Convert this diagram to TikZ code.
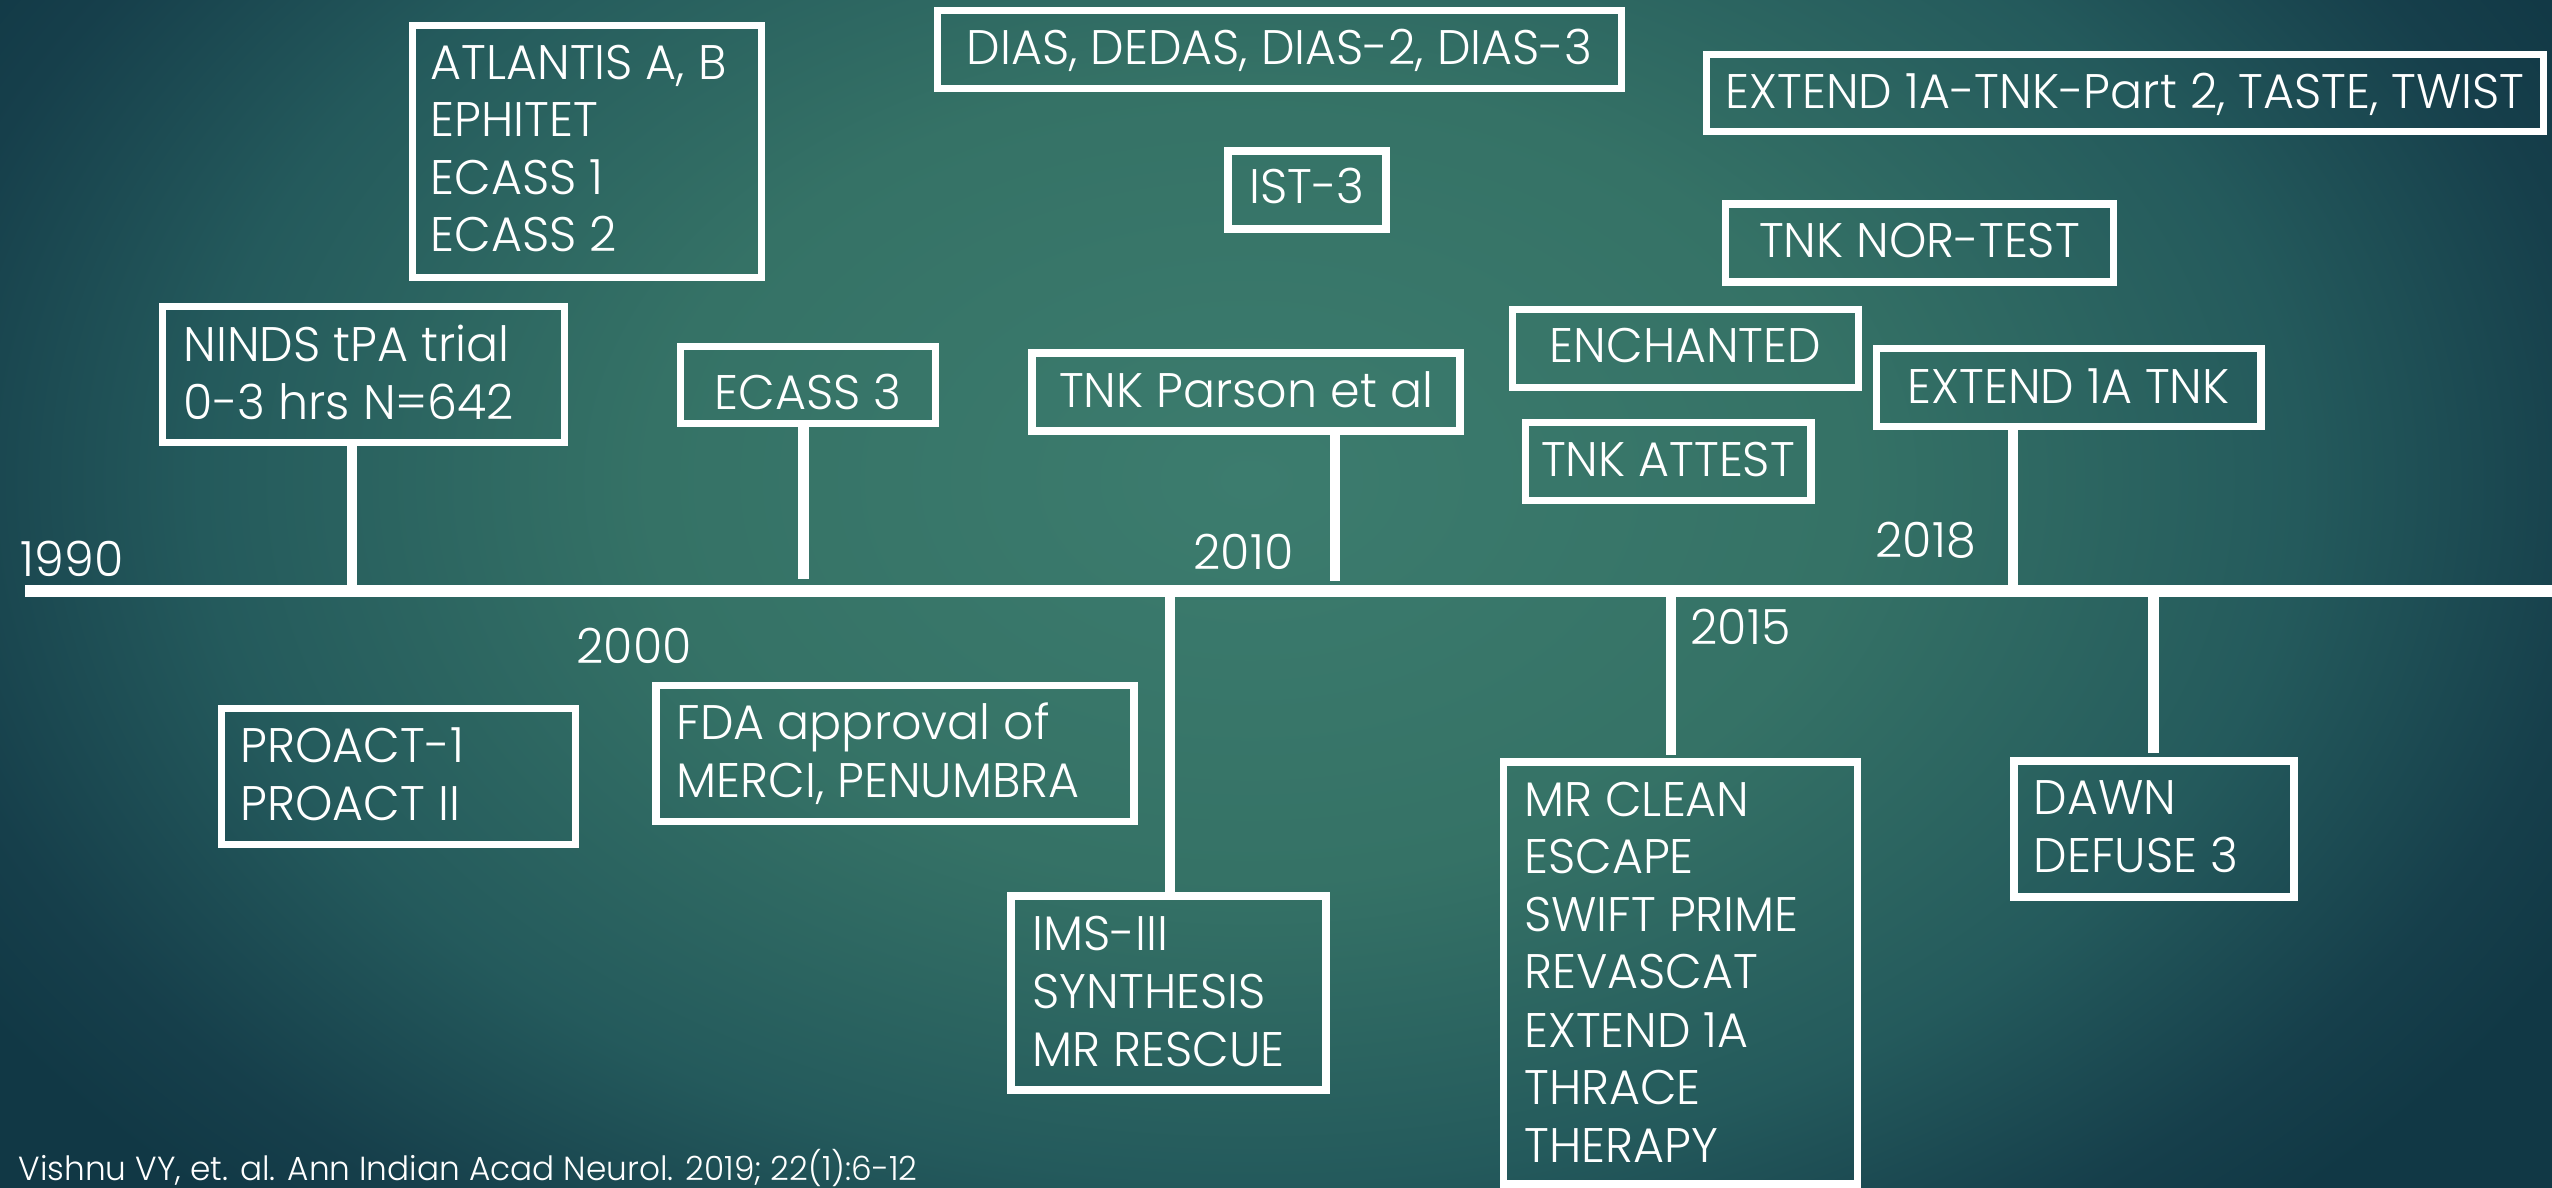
\documentclass[tikz,border=0pt]{standalone}
\usepackage{fontspec}
\setmainfont{Poppins Light}[FakeStretch=0.98]
\definecolor{bgA}{HTML}{3C7C6E}
\definecolor{bgB}{HTML}{357266}
\definecolor{bgC}{HTML}{245A5C}
\definecolor{bgD}{HTML}{163F4B}
\definecolor{bgE}{HTML}{113845}
\pgfdeclareradialshading{bgshade}{\pgfpoint{0bp}{0bp}}{color(0bp)=(bgA); color(10bp)=(bgB); color(17.5bp)=(bgC); color(22.5bp)=(bgD); color(25bp)=(bgE); color(50bp)=(bgE)}
\tikzset{
  box/.style={draw=white, line width=2.1pt, inner sep=0pt, rectangle},
  txt/.style={text=white, anchor=base west, inner sep=0pt, font=\fontsize{13.8}{16}\selectfont},
  ctxt/.style={txt, anchor=base},
  cite/.style={text=white, anchor=base west, inner sep=0pt, font=\fontsize{9.5}{10}\selectfont},
  stem/.style={white, line width=3.1pt},
  axis/.style={white, line width=3.4pt}
}
\begin{document}
\begin{tikzpicture}[x=0.01cm, y=-0.01cm]
\clip (0,0) rectangle (2552,1187);
\useasboundingbox (0,0) rectangle (2552,1187);
\shade[shading=bgshade] (-250,-520) rectangle (2750,1480);

% timeline
\coordinate (tl0) at (25,591);
\coordinate (tl1) at (2560,591);
\draw[axis] (tl0) -- (tl1);

% boxes above
\node[box, minimum width=3.485cm, minimum height=2.515cm] (atl) at (587,151.5) {};
\node[txt] at (430,79) {ATLANTIS A, B};
\node[txt] at (430,136) {EPHITET};
\node[txt] at (430,194) {ECASS 1};
\node[txt] at (430,251) {ECASS 2};

\node[box, minimum width=4.015cm, minimum height=1.355cm] (ninds) at (363.5,374.5) {};
\node[txt] at (183,361) {NINDS tPA trial};
\node[txt] at (183,419) {0-3 hrs N=642};

\node[box, minimum width=2.545cm, minimum height=0.765cm] (ecass3) at (808,385) {};
\node[ctxt] at (808,409) {ECASS 3};

\node[box, minimum width=6.835cm, minimum height=0.775cm] (dias) at (1279.5,49.5) {};
\node[ctxt] at (1279.5,64.5) {DIAS, DEDAS, DIAS-2, DIAS-3};

\node[box, minimum width=8.365cm, minimum height=0.775cm] (ext2) at (2125,93) {};
\node[ctxt] at (2125,108.7) {EXTEND 1A-TNK-Part 2, TASTE, TWIST};

\node[box, minimum width=1.58cm, minimum height=0.78cm] (ist3) at (1307,190) {};
\node[ctxt] at (1307,203.6) {IST-3};

\node[box, minimum width=3.875cm, minimum height=0.78cm] (nortest) at (1919.5,243) {};
\node[ctxt] at (1919.5,257) {TNK NOR-TEST};

\node[box, minimum width=3.455cm, minimum height=0.78cm] (ench) at (1685.5,348.5) {};
\node[ctxt] at (1685.5,362.6) {ENCHANTED};

\node[box, minimum width=4.28cm, minimum height=0.78cm] (parson) at (1246,392) {};
\node[ctxt] at (1246,407) {TNK Parson et al};

\node[box, minimum width=3.845cm, minimum height=0.775cm] (ext1a) at (2068.6,387.5) {};
\node[ctxt] at (2068.6,403) {EXTEND 1A TNK};

\node[box, minimum width=2.855cm, minimum height=0.775cm] (attest) at (1668,461.5) {};
\node[ctxt] at (1668,476.5) {TNK ATTEST};

% boxes below
\node[box, minimum width=3.535cm, minimum height=1.355cm] (proact) at (398.5,776.5) {};
\node[txt] at (240,762) {PROACT-1};
\node[txt] at (240,820) {PROACT II};

\node[box, minimum width=4.775cm, minimum height=1.355cm] (fda) at (895,753.5) {};
\node[txt] at (676,739) {FDA approval of};
\node[txt] at (676,797) {MERCI, PENUMBRA};

\node[box, minimum width=3.15cm, minimum height=1.936cm] (ims) at (1168.5,993) {};
\node[txt] at (1032,950) {IMS-III};
\node[txt] at (1032,1008) {SYNTHESIS};
\node[txt] at (1032,1066) {MR RESCUE};

\node[box, minimum width=3.54cm, minimum height=4.215cm] (mrclean) at (1680.5,973) {};
\node[txt] at (1523.6,816) {MR CLEAN};
\node[txt] at (1523.6,873) {ESCAPE};
\node[txt] at (1523.6,931) {SWIFT PRIME};
\node[txt] at (1523.6,988.6) {REVASCAT};
\node[txt] at (1523.6,1047) {EXTEND 1A};
\node[txt] at (1523.6,1104.6) {THRACE};
\node[txt] at (1523.6,1162) {THERAPY};

\node[box, minimum width=2.80cm, minimum height=1.36cm] (dawn) at (2154,829) {};
\node[txt] at (2033,814) {DAWN};
\node[txt] at (2033,872) {DEFUSE 3};

% stems
\coordinate (s1) at (352,591);
\coordinate (s2) at (803.5,579);
\coordinate (s3) at (1335,581);
\coordinate (s4) at (2013,591);
\coordinate (s5) at (1170,591);
\coordinate (s6) at (1671,755);
\coordinate (s7) at (2153.5,753);
\draw[stem] (s1 |- ninds.south) -- (s1);
\draw[stem] (s2 |- ecass3.south) -- (s2);
\draw[stem] (s3 |- parson.south) -- (s3);
\draw[stem] (s4 |- ext1a.south) -- (s4);
\draw[stem] (s5) -- (s5 |- ims.north);
\draw[stem] (s6 |- tl0) -- (s6);
\draw[stem] (s7 |- tl0) -- (s7);

% years
\node[txt] (y1990) at (20,576) {1990};
\node[txt] (y2000) at (576,663) {2000};
\node[txt] (y2010) at (1193,569) {2010};
\node[txt] (y2015) at (1690,644) {2015};
\node[txt] (y2018) at (1875,557.5) {2018};

% citation
\node[cite] (cit) at (18,1180) {Vishnu VY, et. al. Ann Indian Acad Neurol. 2019; 22(1):6-12};
\end{tikzpicture}
\end{document}
